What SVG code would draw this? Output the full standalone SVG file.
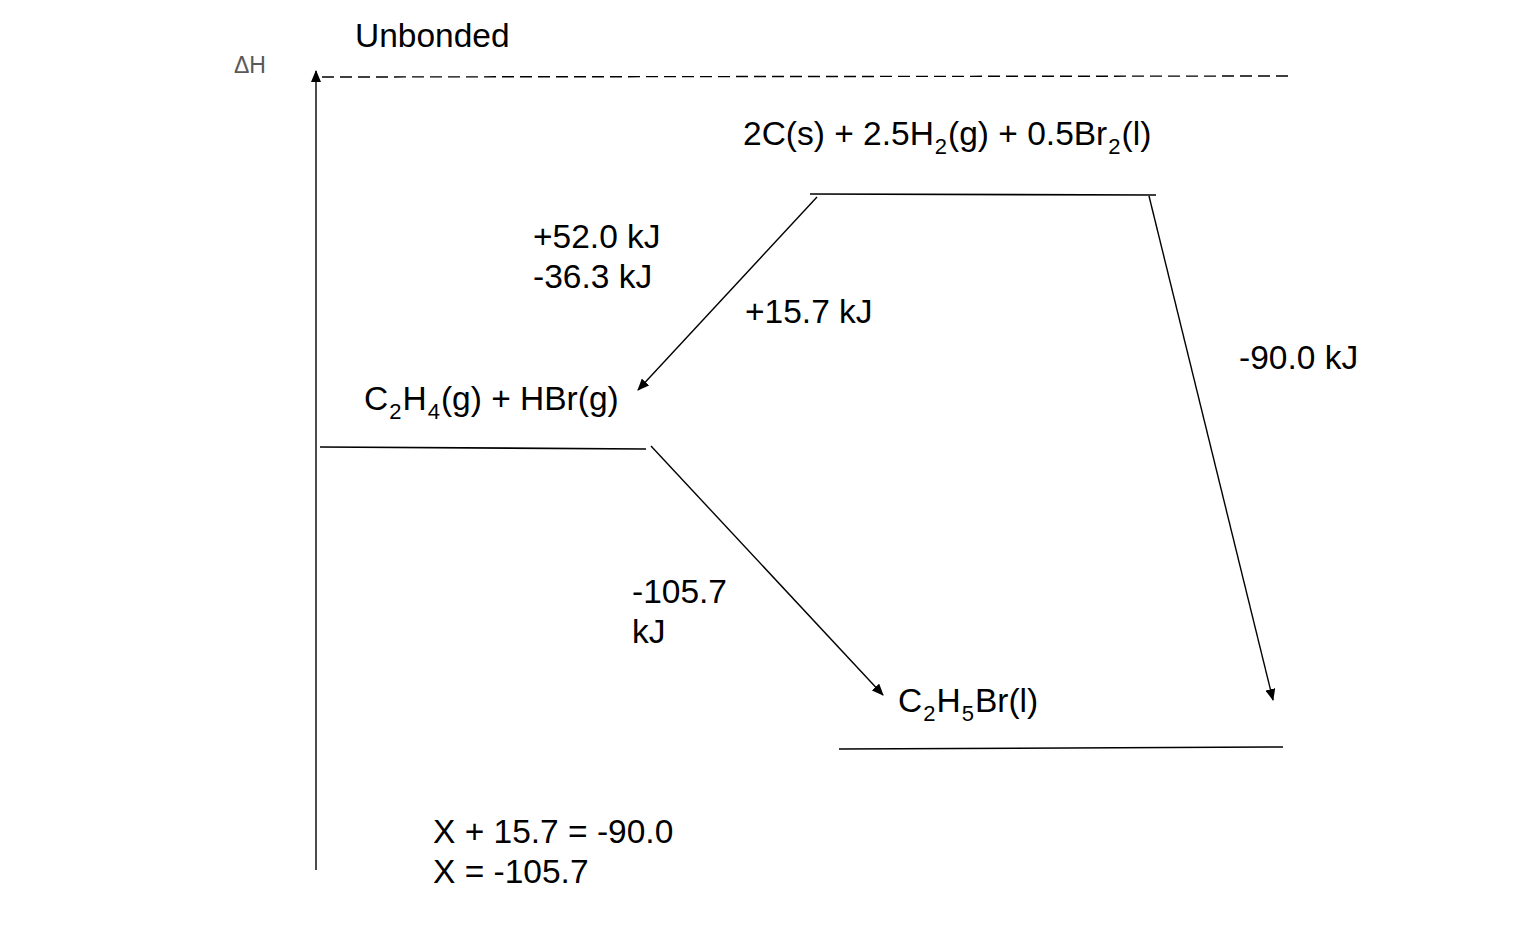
<svg xmlns="http://www.w3.org/2000/svg" width="1538" height="950" viewBox="0 0 1538 950">
<defs>
<marker id="ah" markerWidth="12" markerHeight="10" refX="11" refY="5" orient="auto" markerUnits="userSpaceOnUse">
<path d="M0,0 L12,5 L0,10 Z" fill="#000"/>
</marker>
<style>
.t{font-family:"Liberation Sans",Arial,sans-serif;font-size:33.5px;fill:#000}
.s{font-size:22px}
.lv{stroke:#000;stroke-width:1.6;fill:none}
.ar{stroke:#000;stroke-width:1.4;fill:none;marker-end:url(#ah)}
</style>
</defs>
<rect width="1538" height="950" fill="#fff"/>
<g id="axis">
<line class="ar" x1="316" y1="870" x2="316" y2="71"/>
<text x="234" y="73" style="font-family:'Liberation Sans',Arial,sans-serif;font-size:23px;fill:#595959">ΔH</text>
</g>
<g id="unbonded">
<text class="t" x="355" y="47">Unbonded</text>
<line x1="322" y1="77" x2="1290" y2="76" stroke="#000" stroke-width="1.4" stroke-dasharray="12 6"/>
</g>
<g id="elements">
<text class="t" x="743" y="145">2C(s) + 2.5H<tspan class="s" dx="1" dy="9">2</tspan><tspan dx="1" dy="-9">(g) + 0.5Br</tspan><tspan class="s" dx="1" dy="9">2</tspan><tspan dx="1" dy="-9">(l)</tspan></text>
<line class="lv" x1="810" y1="194" x2="1156" y2="195"/>
</g>
<g id="intermediate">
<text class="t" x="364" y="410">C<tspan class="s" dx="1" dy="9">2</tspan><tspan dx="1" dy="-9">H</tspan><tspan class="s" dx="1" dy="9">4</tspan><tspan dx="1" dy="-9">(g) + HBr(g)</tspan></text>
<line class="lv" x1="320" y1="447" x2="646" y2="449"/>
</g>
<g id="product">
<text class="t" x="898" y="712">C<tspan class="s" dx="1" dy="9">2</tspan><tspan dx="1" dy="-9">H</tspan><tspan class="s" dx="1" dy="9">5</tspan><tspan dx="1" dy="-9">Br(l)</tspan></text>
<line class="lv" x1="839" y1="749" x2="1283" y2="747"/>
</g>
<g id="labels">
<text class="t" x="533" y="248">+52.0 kJ</text>
<text class="t" x="533" y="288">-36.3 kJ</text>
<text class="t" x="745" y="323">+15.7 kJ</text>
<text class="t" x="1239" y="369">-90.0 kJ</text>
<text class="t" x="632" y="603">-105.7</text>
<text class="t" x="632" y="643">kJ</text>
<text class="t" x="433" y="843">X + 15.7 = -90.0</text>
<text class="t" x="433" y="883">X = -105.7</text>
</g>
<g id="connectors">
<line class="ar" x1="817" y1="197" x2="638" y2="390"/>
<line class="ar" x1="651" y1="446" x2="883" y2="695"/>
<line class="ar" x1="1149" y1="196" x2="1273" y2="700"/>
</g>
</svg>
